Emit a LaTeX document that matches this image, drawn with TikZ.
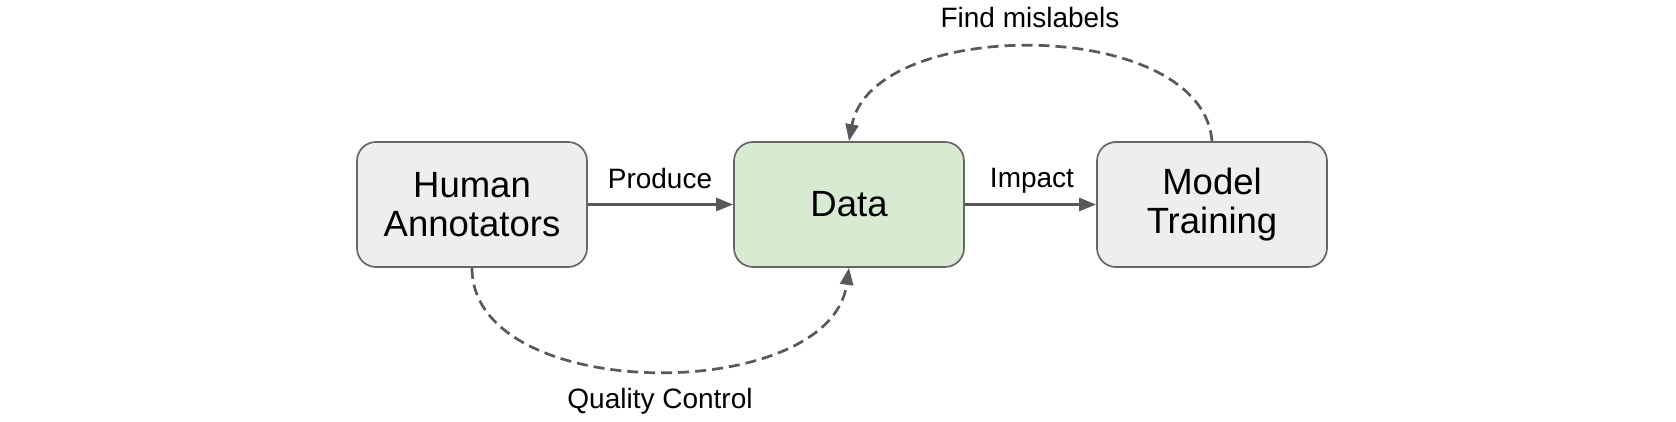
\documentclass[tikz,border=0pt]{standalone}
\usepackage{fontspec}
\setmainfont{Liberation Sans}
\usetikzlibrary{arrows.meta}
\definecolor{boxgray}{HTML}{EEEEEE}
\definecolor{boxgreen}{HTML}{D9EAD3}
\definecolor{edgegray}{HTML}{666666}
\definecolor{linegray}{HTML}{595959}
\tikzset{
  stepbox/.style={draw=edgegray, line width=1.7pt, rounded corners=19pt,
    minimum width=230pt, minimum height=125pt, align=center,
    font=\fontsize{36.5}{39}\selectfont, inner sep=0pt},
  arr/.style={draw=linegray, line width=2.7pt,
    -{Triangle[length=17pt,width=13pt]}},
  dsh/.style={dash pattern=on 11pt off 6pt},
  lbl/.style={font=\fontsize{28}{32}\selectfont, anchor=base, inner sep=0pt}
}
\begin{document}
\begin{tikzpicture}[x=1pt,y=-1pt]
\useasboundingbox (0,0) rectangle (1676,422);
\node[stepbox, fill=boxgray] (h) at (472,204.5) {Human\\Annotators};
\node[stepbox, fill=boxgreen] (d) at (849,204.5) {Data};
\node[stepbox, fill=boxgray] (m) at (1212,204.5) {Model\\Training};
\draw[arr] (h.east) -- (d.west);
\draw[arr] (d.east) -- (m.west);
\draw[arr, dsh] (m.north) .. controls (1202,16) and (872,16) .. (d.north);
\draw[arr, dsh] (h.south) .. controls (472,405) and (830,405) .. (d.south);
\node[lbl] (lp) at (660,189) {Produce};
\node[lbl] (li) at (1032,188) {Impact};
\node[lbl] (lf) at (1030,28) {Find mislabels};
\node[lbl] (lq) at (660,408) {Quality Control};
\end{tikzpicture}
\end{document}
